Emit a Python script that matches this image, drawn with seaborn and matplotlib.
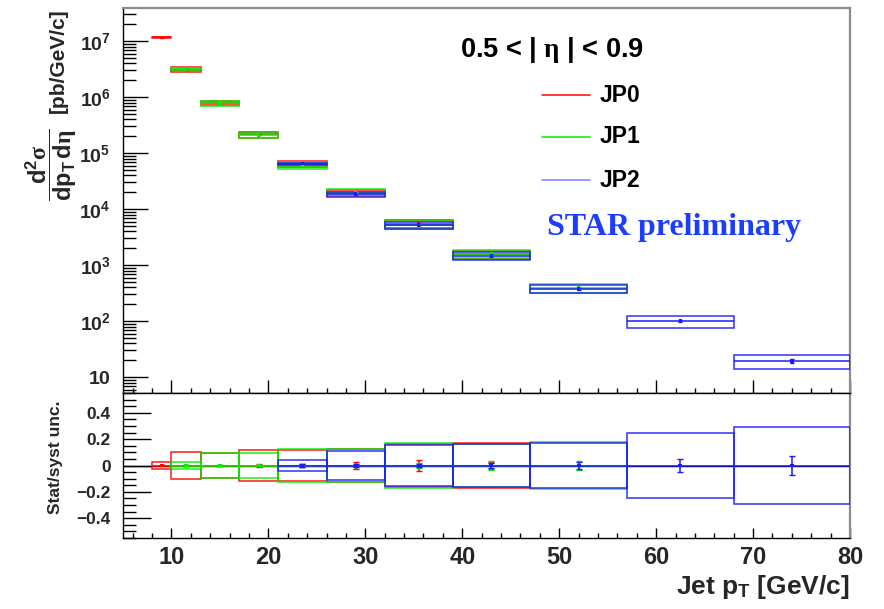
import numpy as np
import pandas as pd
import matplotlib
matplotlib.use("Agg")
import matplotlib.pyplot as plt
import seaborn as sns
from matplotlib.patches import Rectangle
from matplotlib.ticker import MultipleLocator, LogLocator, NullFormatter, FixedLocator, FixedFormatter

# ---------------- data ----------------
bin_edges = [8, 10, 13, 17, 21, 26, 32, 39, 47, 57, 68, 80]
bin_points = [9.0, 11.5, 15.0, 19.0, 23.5, 29.0, 35.5, 43.0, 52.0, 62.5, 74.0]

trigger_names = ["JP0", "JP1", "JP2"]
trigger_colors = ["#ff0000", "#00ee00", "#1a1aff"]
legend_colors = ["#ff0000", "#00ee00", "#7f7fff"]

jp0_bins = [0, 1, 2, 3, 4, 5, 6, 7]
jp0_xsec = [1.16e7, 3.1e6, 7.9e5, 2.15e5, 6.4e4, 1.95e4, 5.4e3, 1.55e3]
jp0_syst = [0.027, 0.105, 0.095, 0.118, 0.120, 0.126, 0.165, 0.170]
jp0_stat = [0.005, 0.006, 0.006, 0.008, 0.012, 0.028, 0.040, 0.030]

jp1_bins = [1, 2, 3, 4, 5, 6, 7, 8]
jp1_xsec = [3.2e6, 7.8e5, 2.1e5, 6.0e4, 2.0e4, 5.3e3, 1.6e3, 3.9e2]
jp1_syst = [0.028, 0.097, 0.098, 0.125, 0.124, 0.171, 0.160, 0.178]
jp1_stat = [0.004, 0.004, 0.005, 0.008, 0.012, 0.020, 0.037, 0.033]

jp2_bins = [4, 5, 6, 7, 8, 9, 10]
jp2_xsec = [6.5e4, 1.85e4, 5.2e3, 1.45e3, 3.75e2, 1.0e2, 19.3]
jp2_syst = [0.045, 0.110, 0.153, 0.162, 0.170, 0.245, 0.289]
jp2_stat = [0.010, 0.012, 0.015, 0.020, 0.030, 0.050, 0.072]

top_ticks = [10, 1e2, 1e3, 1e4, 1e5, 1e6, 1e7]
top_tick_labels = [r"$\mathbf{10}$", r"$\mathbf{10^{2}}$", r"$\mathbf{10^{3}}$", r"$\mathbf{10^{4}}$",
                   r"$\mathbf{10^{5}}$", r"$\mathbf{10^{6}}$", r"$\mathbf{10^{7}}$"]
low_ticks = [-0.4, -0.2, 0.0, 0.2, 0.4]
low_tick_labels = ["\u22120.4", "\u22120.2", "0", "0.2", "0.4"]

# ---------------- table ----------------
rows = []
for name, bins, xs, sy, st in [("JP0", jp0_bins, jp0_xsec, jp0_syst, jp0_stat),
                               ("JP1", jp1_bins, jp1_xsec, jp1_syst, jp1_stat),
                               ("JP2", jp2_bins, jp2_xsec, jp2_syst, jp2_stat)]:
    for b, v, s, t in zip(bins, xs, sy, st):
        rows.append(dict(trigger=name, lo=bin_edges[b], hi=bin_edges[b + 1], pt=bin_points[b],
                         xsec=v, syst=s, stat=t, rel=0.0))
df = pd.DataFrame(rows)

# ---------------- style ----------------
sns.set_theme(style="ticks")
plt.rcParams["font.family"] = ["Liberation Sans", "DejaVu Sans"]
plt.rcParams["font.weight"] = "bold"
plt.rcParams["mathtext.fontset"] = "custom"
plt.rcParams["mathtext.rm"] = "Liberation Serif"
plt.rcParams["mathtext.it"] = "Liberation Serif:italic"
plt.rcParams["mathtext.bf"] = "Liberation Sans:bold"
plt.rcParams["xtick.direction"] = "in"
plt.rcParams["ytick.direction"] = "in"

fig = plt.figure(figsize=(8.84, 6.09), dpi=100)
fig.patch.set_facecolor("white")
L, W = 123 / 884, (850 - 123) / 884
ax = fig.add_axes([L, 1 - 393 / 609, W, (393 - 8) / 609])
axr = fig.add_axes([L, 1 - 538 / 609, W, (538 - 393) / 609])

palette = dict(zip(trigger_names, trigger_colors))

for a in (ax, axr):
    a.set_facecolor("white")
    a.set_xlim(5, 80)
    for s in ("left", "bottom"):
        a.spines[s].set_color("black")
        a.spines[s].set_linewidth(1.0)
    for s in ("top", "right"):
        a.spines[s].set_color("#8c8c8c")
        a.spines[s].set_linewidth(1.6)
    a.xaxis.set_major_locator(MultipleLocator(10))
    a.xaxis.set_minor_locator(MultipleLocator(2))
axr.spines["top"].set_color("black")
axr.spines["top"].set_linewidth(1.0)

# ---------------- top panel ----------------
ax.set_yscale("log")
ax.set_ylim(5.2, 3.9e7)
for name in trigger_names:
    sub = df[df.trigger == name]
    c = palette[name]
    for _, r in sub.iterrows():
        ax.add_patch(Rectangle((r.lo, r.xsec * (1 - r.syst)), r.hi - r.lo, r.xsec * 2 * r.syst,
                               fill=False, edgecolor=c, lw=1.1, alpha=0.9, zorder=3))
    ax.hlines(sub.xsec, sub.lo, sub.hi, colors=c, lw=1.1, zorder=3)
    ax.errorbar(sub.pt, sub.xsec, yerr=sub.xsec * sub.stat, fmt="none", ecolor=c,
                elinewidth=1, capsize=1.5, zorder=4)
sns.scatterplot(data=df, x="pt", y="xsec", hue="trigger", palette=palette, marker="s",
                s=6, linewidth=0, legend=False, ax=ax, zorder=5)
ax.set_xlabel("")
ax.set_ylabel("")
ax.yaxis.set_major_locator(FixedLocator(top_ticks))
ax.yaxis.set_major_formatter(FixedFormatter(top_tick_labels))
ax.yaxis.set_minor_locator(LogLocator(base=10, subs=np.arange(2, 10)))
ax.yaxis.set_minor_formatter(NullFormatter())
ax.tick_params(axis="y", which="major", length=18, width=1, labelsize=14, pad=9, color="black")
ax.tick_params(axis="y", which="minor", length=9, width=1, color="black")
ax.tick_params(axis="x", which="major", length=9.4, width=1, labelbottom=False, color="black")
ax.tick_params(axis="x", which="minor", length=3.6, width=1, color="black")
ax.tick_params(right=False, top=False)

# texts and legend
ax.text(0.590, 0.891, r"0.5 < | $\mathrm{\eta}$ | < 0.9", transform=ax.transAxes,
        ha="center", va="center", fontsize=19.5, fontweight="bold", color="black")
for i, (name, lc) in enumerate(zip(trigger_names, legend_colors)):
    yy = [0.774, 0.666, 0.553][i]
    ax.plot([0.576, 0.642], [yy, yy], color=lc, lw=1.1, transform=ax.transAxes)
    ax.text(0.656, yy, name, transform=ax.transAxes, ha="left", va="center",
            fontsize=16.5, fontweight="bold", color="black")
ax.text(0.583, 0.431, "STAR preliminary", transform=ax.transAxes, ha="left", va="center",
        fontsize=23, fontweight="bold", family="Liberation Serif", color="#1c3cff")

fig.text(0.058, 1 - 164.5 / 609,
         r"$\dfrac{\mathbf{d^{2}}\mathrm{\sigma}}{\mathbf{dp_{T}}\,\mathbf{d}\mathrm{\eta}}$",
         rotation=90, ha="center", va="center", fontsize=17, fontweight="bold")
fig.text(0.066, 1 - 61 / 609, "[pb/GeV/c]",
         rotation=90, ha="center", va="center", fontsize=15, fontweight="bold")

# ---------------- ratio panel ----------------
axr.set_ylim(-0.55, 0.55)
axr.axhline(0, color="black", lw=1.0, zorder=2)
for name in trigger_names:
    sub = df[df.trigger == name]
    c = palette[name]
    for _, r in sub.iterrows():
        axr.add_patch(Rectangle((r.lo, -r.syst), r.hi - r.lo, 2 * r.syst,
                                fill=False, edgecolor=c, lw=1.1, alpha=0.9, zorder=3))
    axr.hlines(sub.rel, sub.lo, sub.hi, colors=c, lw=1.1, zorder=3)
    axr.errorbar(sub.pt, sub.rel, yerr=sub.stat, fmt="none", ecolor=c,
                 elinewidth=1.1, capsize=2, zorder=4)
sns.scatterplot(data=df, x="pt", y="rel", hue="trigger", palette=palette, marker="s",
                s=8, linewidth=0, legend=False, ax=axr, zorder=5)
axr.set_xlabel("")
axr.set_ylabel("")
axr.yaxis.set_major_locator(FixedLocator(low_ticks))
axr.yaxis.set_major_formatter(FixedFormatter(low_tick_labels))
axr.yaxis.set_minor_locator(MultipleLocator(0.05))
axr.tick_params(axis="y", which="major", length=20, width=1, labelsize=12.5, pad=9, color="black")
axr.tick_params(axis="y", which="minor", length=9.4, width=1, color="black")
axr.tick_params(axis="x", which="major", length=7.2, width=1, labelsize=17, pad=6, color="black")
axr.tick_params(axis="x", which="minor", length=3.6, width=1, color="black")
axr.tick_params(right=False, top=False)
for lab in axr.get_xticklabels() + axr.get_yticklabels() + ax.get_yticklabels():
    lab.set_fontweight("bold")

fig.text(0.063, 1 - 457 / 609, "Stat/syst unc.", rotation=90, ha="center", va="center",
         fontsize=12.5, fontweight="bold")
fig.text(850 / 884, 1 - 587 / 609, r"Jet p$_{\mathbf{T}}$ [GeV/c]", ha="right", va="center",
         fontsize=19, fontweight="bold")

fig.savefig("out.png", dpi=100, facecolor="white")
